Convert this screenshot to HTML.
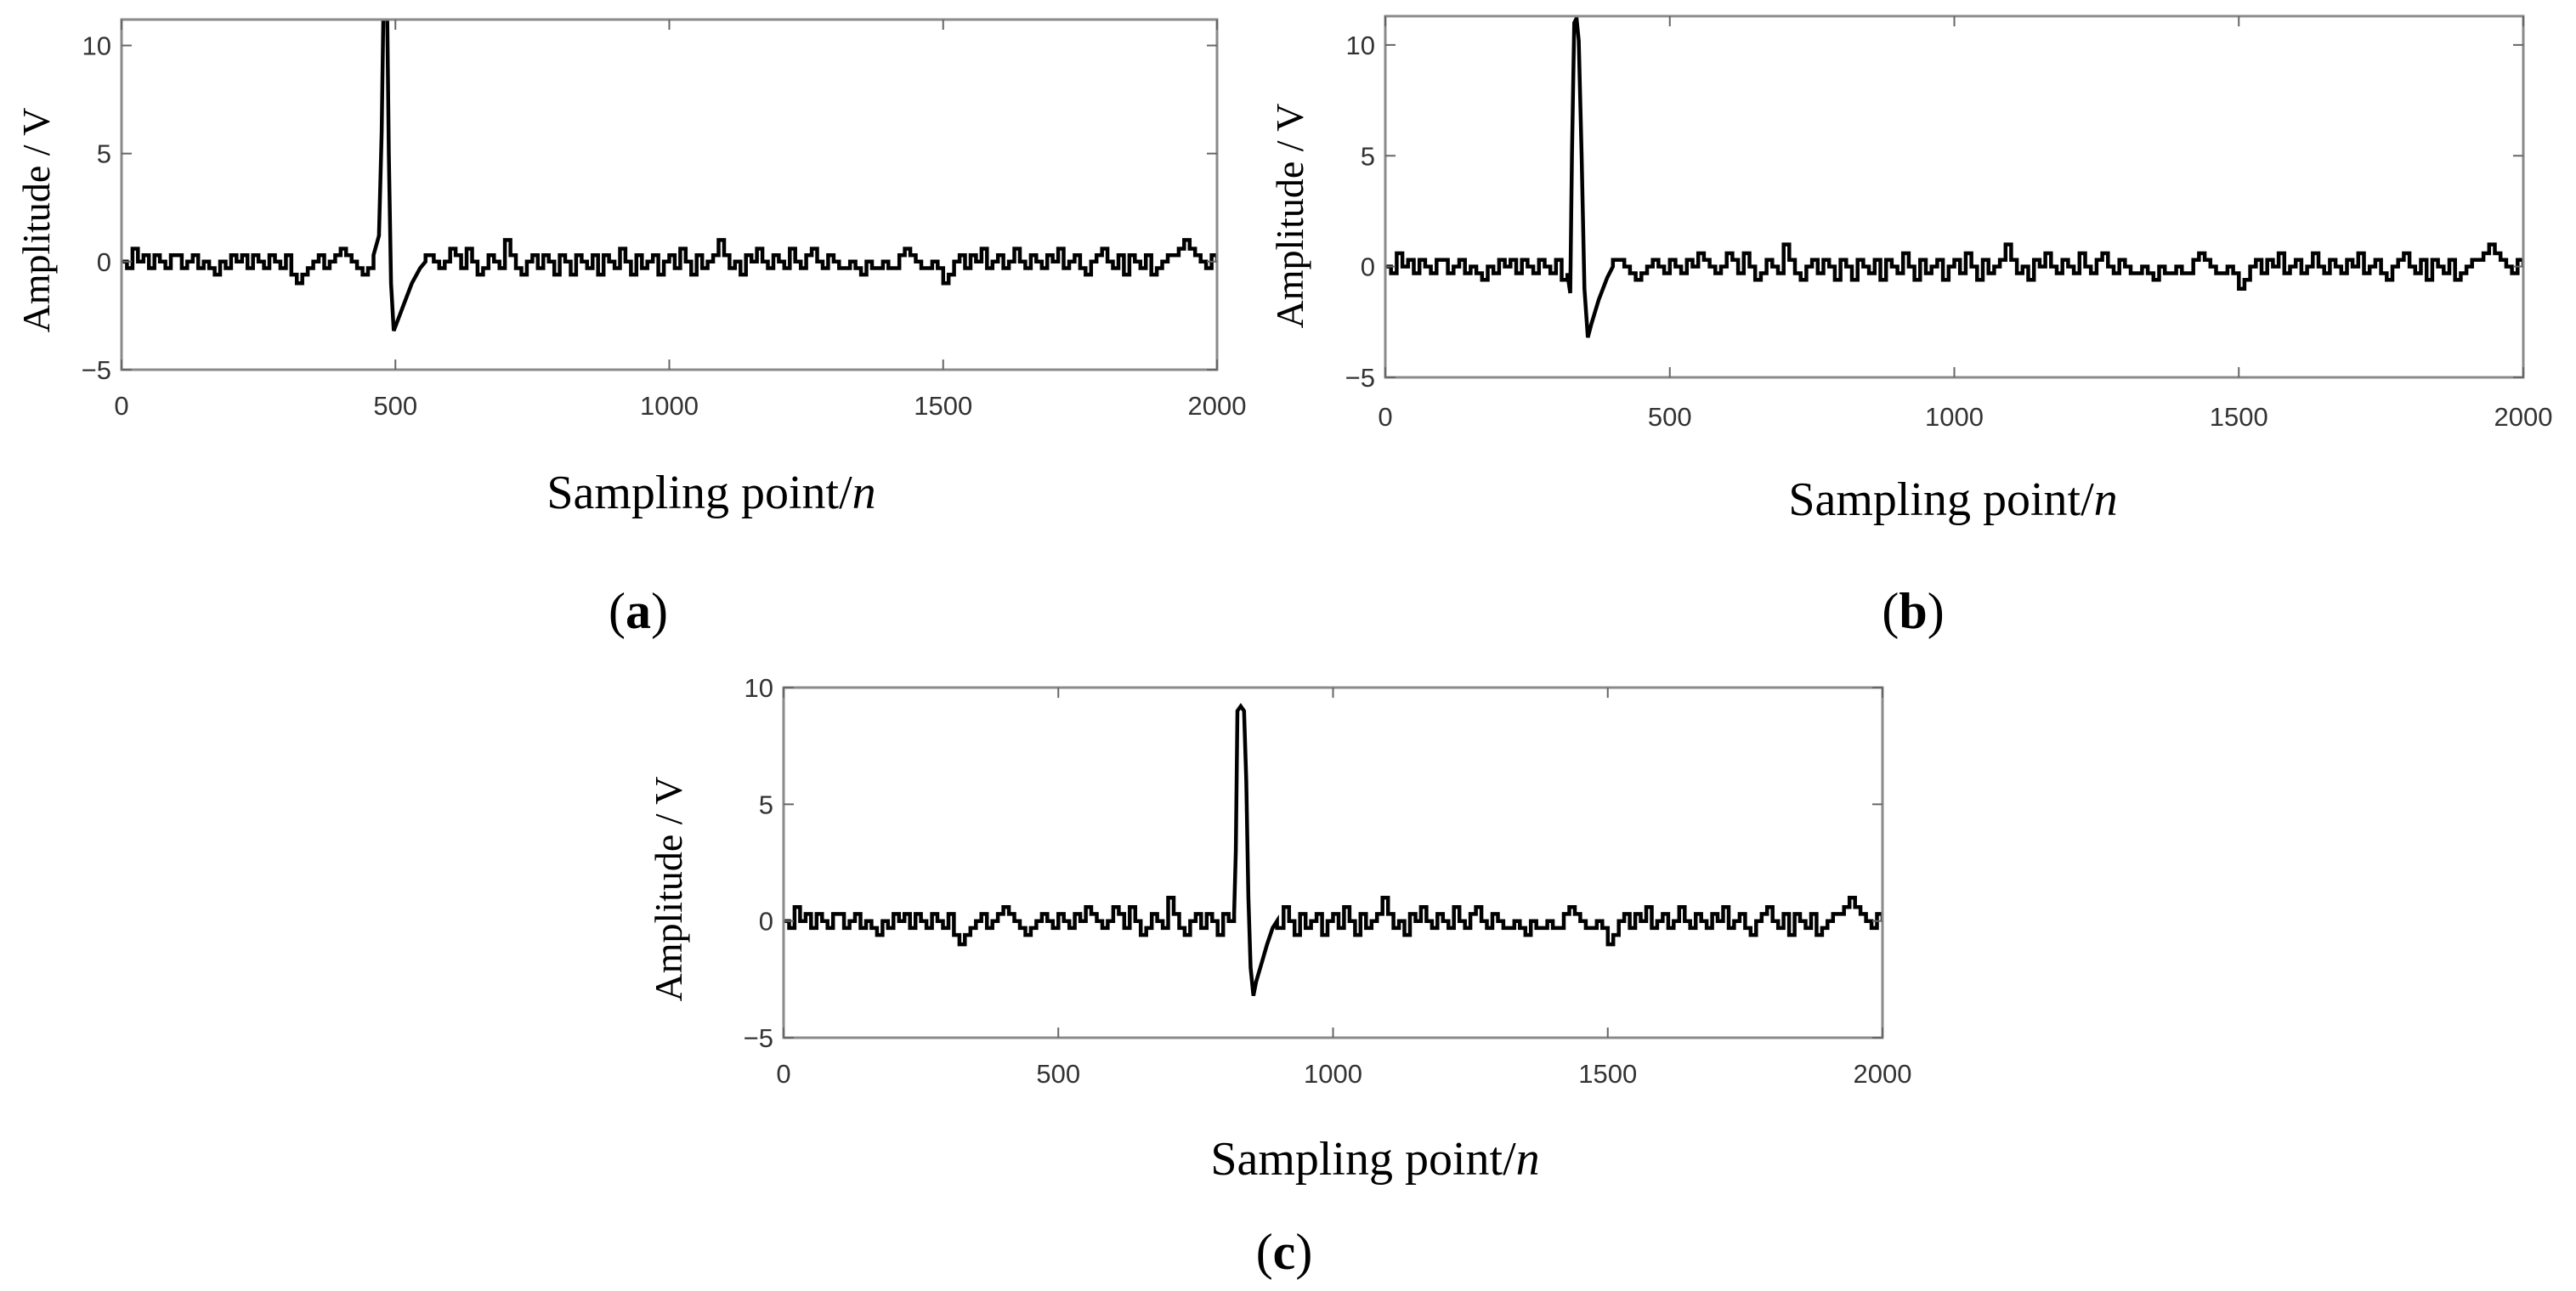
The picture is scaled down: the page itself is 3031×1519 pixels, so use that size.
<!DOCTYPE html>
<html><head><meta charset="utf-8"><style>
html,body{margin:0;padding:0;background:#fff}
svg{display:block}
</style></head><body>
<svg id="fig" width="3031" height="1519" viewBox="0 0 3031 1519" xmlns="http://www.w3.org/2000/svg"></svg>
<script>
const xTicks = [0, 500, 1000, 1500, 2000];
const yTicks = [-5, 0, 5, 10];
const noiseStep = 10;
const noise = [0,-0.3,0.6,0,0.3,-0.3,0.3,0,-0.3,0.3,
0.3,-0.3,0,0.3,-0.3,0,-0.3,-0.6,0,-0.3,
0.3,0,0.3,-0.3,0.3,0,-0.3,0.3,0,-0.3,
0.3,-0.6,-1.0,-0.6,-0.3,0,0.3,-0.3,0,0.3,
0.6,0.3,0,-0.3,-0.6,-0.3,0,0.3,0,-0.3,
0.3,0,-0.3,0.3,0,0.6,0.3,0,-0.3,0,
0.6,0.3,-0.3,0.6,0,-0.6,-0.3,0.3,0,-0.3,
1.0,0.3,-0.3,-0.6,0,0.3,-0.3,0.3,0,-0.6,
0.3,0,-0.6,0.3,0,-0.3,0.3,-0.6,0.3,0,
-0.3,0.6,0,-0.6,0.3,-0.3,0,0.3,-0.6,0,
0.3,-0.3,0.6,0,-0.6,0.3,-0.3,0,0.3,1.0,
0.3,-0.3,0,-0.6,0.3,0,0.6,0,-0.3,0.3,
0,-0.3,0.6,0,-0.3,0.3,0.6,0,-0.3,0.3,
0,-0.3,-0.3,0,-0.3,-0.6,0,-0.3,-0.3,0,
-0.3,-0.3,0.3,0.6,0.3,0,-0.3,-0.3,0,-0.3,
-1.0,-0.6,0,0.3,-0.3,0.3,0,0.6,-0.3,0,
0.3,-0.3,0,0.6,0,-0.3,0.3,0,-0.3,0.3,
0,0.6,-0.3,0,0.3,-0.3,-0.6,0,0.3,0.6,
0,-0.3,0.3,-0.6,0.3,0,-0.3,0.3,-0.6,-0.3,
0,0.3,0.3,0.6,1.0,0.6,0.3,0,-0.3,0.3,0];
const pulseAx = [460,470,475,478,485,488,492,497,503,515,530,545,555];
const pulseAy = [0.3,1.2,6,11.5,11.5,5,-1,-3.2,-2.8,-2,-1,-0.3,0];
const pulseBx = [320,325,328,332,336,340,345,350,356,362,375,390,400];
const pulseBy = [-0.3,-1.2,5,11,11.2,10.2,5,-1,-3.2,-2.6,-1.5,-0.5,0];
const pulseCx = [820,823,826,832,838,842,846,850,855,860,870,880,890,898];
const pulseCy = [0.3,3,9,9.2,9,6,1,-2,-3.2,-2.6,-1.8,-1,-0.3,0];

const NS='http://www.w3.org/2000/svg';
const svg=document.getElementById('fig');
function mk(tag,attrs,parent){const e=document.createElementNS(NS,tag);for(const k in attrs)e.setAttribute(k,attrs[k]);(parent||svg).appendChild(e);return e;}

const panels=[
 {id:'a',xL:143,xR:1432,yT:23,yB:435,ymax:11.2,ymin:-5,px:pulseAx,py:pulseAy,xlab:[837,598],ylab:[43,259],cap:[751,739],tickY:488},
 {id:'b',xL:1630,xR:2969,yT:19,yB:444,ymax:11.3,ymin:-5,px:pulseBx,py:pulseBy,xlab:[2298,606],ylab:[1518,254],cap:[2251,739],tickY:501},
 {id:'c',xL:922,xR:2215,yT:809,yB:1221,ymax:10,ymin:-5,px:pulseCx,py:pulseCy,xlab:[1618,1382],ylab:[787,1046],cap:[1511,1493],tickY:1274}
];

panels.forEach(p=>{
 const g=mk('g',{});
 
 
 const sx=v=>p.xL+(v-0)/(2000-0)*(p.xR-p.xL);
 const sy=v=>p.yB-(v-p.ymin)/(p.ymax-p.ymin)*(p.yB-p.yT);
 const cid='clip'+p.id;
 const cp=mk('clipPath',{id:cid},g);
 mk('rect',{x:p.xL,y:p.yT,width:p.xR-p.xL,height:p.yB-p.yT},cp);
 const lo=p.px[0], hi=p.px[p.px.length-1];
 let d='';
 let started=false;
 // stepped noise before pulse
 noise.forEach((v,i)=>{const x=i*noiseStep; if(x<lo){
   if(!started){d+='M'+sx(x).toFixed(1)+' '+sy(v).toFixed(1);started=true;}
   else d+='V'+sy(v).toFixed(1);
   d+='H'+sx(Math.min(x+noiseStep,lo)).toFixed(1);
 }});
 p.px.forEach((x,i)=>{d+='L'+sx(x).toFixed(1)+' '+sy(p.py[i]).toFixed(1);});
 noise.forEach((v,i)=>{const x=i*noiseStep; if(x>hi){
   d+='V'+sy(v).toFixed(1)+'H'+sx(Math.min(x+noiseStep,2000)).toFixed(1);
 }});
 const line=mk('path',{d:d,fill:'none',stroke:'#000','stroke-width':4.5,'stroke-linejoin':'miter','clip-path':'url(#'+cid+')'},g);
 
 
 const fr=mk('rect',{x:p.xL,y:p.yT,width:p.xR-p.xL,height:p.yB-p.yT,fill:'none',stroke:'#8a8a8a','stroke-width':3},g);
 
 
 xTicks.forEach(t=>{
  const x=sx(t);
  mk('line',{x1:x,y1:p.yB,x2:x,y2:p.yB-12,stroke:'#666','stroke-width':2},g);
  mk('line',{x1:x,y1:p.yT,x2:x,y2:p.yT+12,stroke:'#666','stroke-width':2},g);
  const tx=mk('text',{x:x,y:p.tickY,'text-anchor':'middle','font-family':'Liberation Sans, sans-serif','font-size':31,fill:'#333'},g);
  tx.textContent=t;
  
  
 });
 yTicks.forEach(t=>{
  if(t>p.ymax) return;
  const y=sy(t);
  mk('line',{x1:p.xL,y1:y,x2:p.xL+12,y2:y,stroke:'#666','stroke-width':2},g);
  mk('line',{x1:p.xR,y1:y,x2:p.xR-12,y2:y,stroke:'#666','stroke-width':2},g);
  const tx=mk('text',{x:p.xL-12,y:y+11,'text-anchor':'end','font-family':'Liberation Sans, sans-serif','font-size':31,fill:'#333'},g);
  tx.textContent=t<0?'\u2212'+(-t):t;
  
  
 });
 const xl=mk('text',{x:p.xlab[0],y:p.xlab[1],'text-anchor':'middle','font-family':'Liberation Serif, serif','font-size':56,fill:'#000'},g);
 xl.innerHTML='Sampling point/<tspan font-style="italic">n</tspan>';
 
 
 const yl=mk('text',{x:0,y:0,'text-anchor':'middle','font-family':'Liberation Serif, serif','font-size':46,fill:'#000',transform:'translate('+(p.ylab[0]+15)+','+p.ylab[1]+') rotate(-90)'},g);
 yl.textContent='Amplitude / V';
 
 
 const cap=mk('text',{x:p.cap[0],y:p.cap[1],'text-anchor':'middle','font-family':'Liberation Serif, serif','font-size':60,fill:'#000'},g);
 cap.innerHTML='(<tspan font-weight="bold">'+p.id+'</tspan>)';
 
 
});
</script>
</body></html>
